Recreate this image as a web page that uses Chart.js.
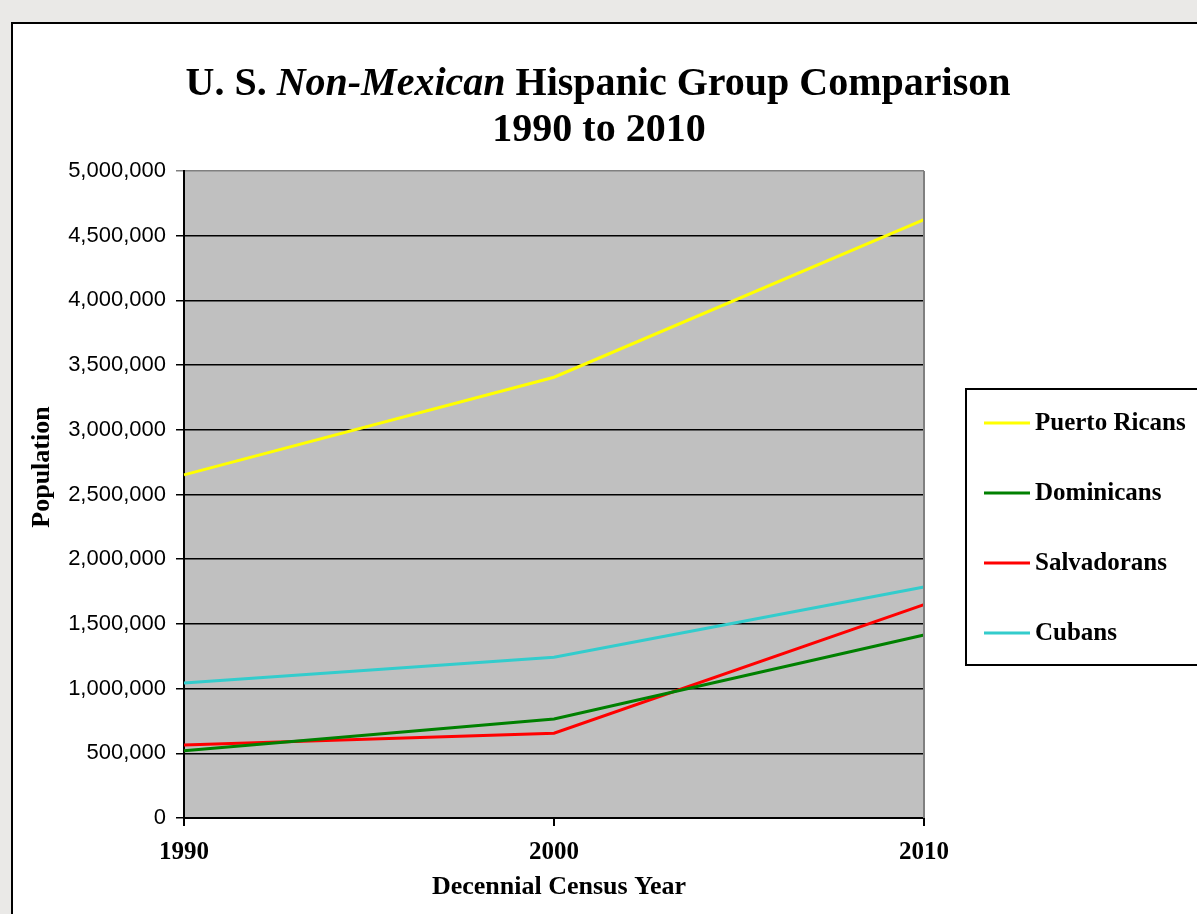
<!DOCTYPE html>
<html>
<head>
<meta charset="utf-8">
<script src="https://cdn.jsdelivr.net/npm/chart.js@4"></script>
<style>
  html, body { margin: 0; padding: 0; background: #eae9e7; width: 1197px; height: 914px; overflow: hidden; }
  #panel { position: absolute; left: 11px; top: 22px; width: 1200px; height: 920px; background: #fff; border: 2px solid #000; box-sizing: border-box; }
  #c { position: absolute; left: 0; top: 0; }
</style>
</head>
<body>
<div id="panel"></div>
<canvas id="c" width="1197" height="914"></canvas>
<script>
const years = ["1990", "2000", "2010"];
const puertoRicans = [2651815, 3406178, 4623716];
const dominicans = [520151, 764945, 1414703];
const salvadorans = [565081, 655165, 1648968];
const cubans = [1043932, 1241685, 1785547];
const seriesNames = ["Puerto Ricans", "Dominicans", "Salvadorans", "Cubans"];
const seriesColors = ["#ffff00", "#008000", "#ff0000", "#33cccc"];
const yTickMax = 5000000;
const yTickStep = 500000;

const serif = "'Liberation Serif', 'Times New Roman', serif";
const sans = "'Liberation Sans', Arial, sans-serif";

const decor = {
  id: 'decor',
  beforeDraw(chart) {
    const { ctx, chartArea: a } = chart;
    ctx.save();
    ctx.fillStyle = '#c0c0c0';
    ctx.fillRect(a.left, a.top, a.right - a.left, a.bottom - a.top);
    ctx.restore();
  },
  afterDatasetsDraw(chart) {
    const { ctx, chartArea: a } = chart;
    ctx.save();
    ctx.strokeStyle = '#808080';
    ctx.lineWidth = 2;
    ctx.beginPath();
    ctx.moveTo(a.right, a.top);
    ctx.lineTo(a.right, a.bottom);
    ctx.stroke();
    ctx.restore();
  },
  afterDraw(chart) {
    const { ctx } = chart;
    ctx.save();
    ctx.fillStyle = '#000';
    ctx.textBaseline = 'alphabetic';
    const parts = [
      { t: 'U. S. ', f: 'bold 40px ' + serif },
      { t: 'Non-Mexican', f: 'italic bold 40px ' + serif },
      { t: ' Hispanic Group Comparison', f: 'bold 40px ' + serif }
    ];
    let total = 0;
    parts.forEach(p => { ctx.font = p.f; p.w = ctx.measureText(p.t).width; total += p.w; });
    let x = 598 - total / 2;
    ctx.textAlign = 'left';
    parts.forEach(p => { ctx.font = p.f; ctx.fillText(p.t, x, 95); x += p.w; });
    ctx.textAlign = 'center';
    ctx.font = 'bold 40px ' + serif;
    ctx.fillText('1990 to 2010', 599, 141);

    ctx.font = 'bold 26px ' + serif;
    ctx.fillText('Decennial Census Year', 559, 894);

    ctx.save();
    ctx.translate(49, 467);
    ctx.rotate(-Math.PI / 2);
    ctx.font = 'bold 26px ' + serif;
    ctx.fillText('Population', 0, 0);
    ctx.restore();

    const lx = 966, ly = 389, lw = 240, lh = 276;
    ctx.strokeStyle = '#000';
    ctx.lineWidth = 2;
    ctx.strokeRect(lx, ly, lw, lh);
    const ds = chart.data.datasets;
    ctx.textAlign = 'left';
    ctx.textBaseline = 'middle';
    ctx.font = 'bold 25px ' + serif;
    ds.forEach((d, i) => {
      const yy = 423 + i * 70;
      ctx.strokeStyle = d.borderColor;
      ctx.lineWidth = 3;
      ctx.beginPath();
      ctx.moveTo(984, yy);
      ctx.lineTo(1030, yy);
      ctx.stroke();
      ctx.fillStyle = '#000';
      ctx.fillText(d.label, 1035, yy + 1);
    });
    ctx.restore();
  }
};

new Chart(document.getElementById('c'), {
  type: 'line',
  data: {
    labels: years,
    datasets: [puertoRicans, dominicans, salvadorans, cubans].map((vals, i) => ({
      label: seriesNames[i],
      data: vals,
      borderColor: seriesColors[i],
      backgroundColor: seriesColors[i],
      borderWidth: 3,
      pointRadius: 0,
      tension: 0,
      fill: false
    }))
  },
  options: {
    responsive: false,
    animation: false,
    layout: { padding: { left: 0, top: 171, right: 273, bottom: 0 } },
    plugins: { legend: { display: false }, title: { display: false }, tooltip: { enabled: false } },
    scales: {
      x: {
        offset: false,
        afterFit(s) { s.height = 96; },
        border: { display: true, color: '#000', width: 2 },
        grid: { drawOnChartArea: false, drawTicks: true, tickLength: 8, color: '#000', lineWidth: 2 },
        ticks: { color: '#000', font: { family: serif, size: 25, weight: 'bold' }, padding: 12, maxRotation: 0 }
      },
      y: {
        min: 0, max: yTickMax,
        afterFit(s) { s.width = 184; },
        border: { display: true, color: '#000', width: 2 },
        grid: {
          drawTicks: true, tickLength: 8,
          color: (c) => (c.tick && c.tick.value === yTickMax) ? '#808080' : '#000',
          lineWidth: 1.5
        },
        ticks: {
          stepSize: yTickStep, color: '#000', padding: 10,
          font: { family: sans, size: 22 },
          callback: (v) => v.toLocaleString('en-US')
        }
      }
    }
  },
  plugins: [decor]
});
</script>
</body>
</html>
